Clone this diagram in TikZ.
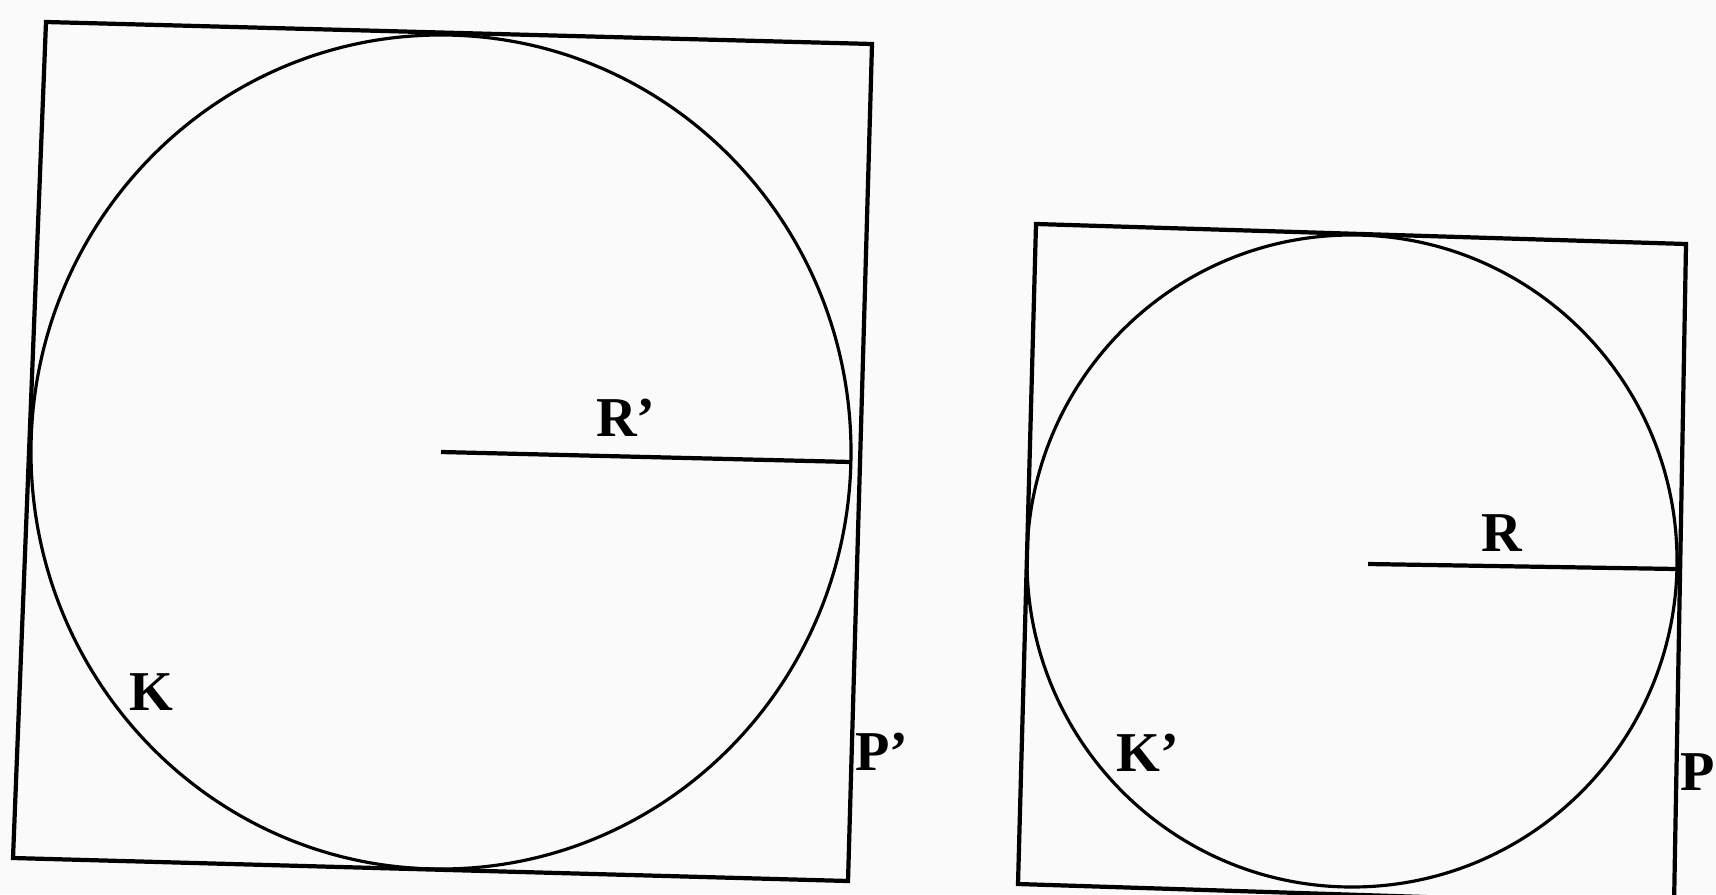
\documentclass[tikz,border=0pt]{standalone}
\usepackage{fontspec}
\setmainfont{Liberation Serif}
\begin{document}
\begin{tikzpicture}[x=0.01cm,y=-0.01cm,
  edge/.style={line width=1.2pt,black},
  rim/.style={line width=0.9pt,black},
  lbl/.style={font=\fontsize{16}{18}\selectfont\bfseries,inner sep=0pt}]
\fill[black!2] (0,0) rectangle (1716,894);
\useasboundingbox (0,0) rectangle (1716,894);
\begin{scope}
\clip (0,0) rectangle (1716,894);
% left figure
\coordinate (a1) at (46,22);
\coordinate (a2) at (872,44);
\coordinate (a3) at (848,881);
\coordinate (a4) at (13,858);
\draw[edge] (a1) -- (a2) -- (a3) -- (a4) -- cycle;
\coordinate (c1) at (441,452);
\draw[rim] (c1) ellipse [x radius=410, y radius=417];
\coordinate (r1) at (851,462);
\draw[edge] (c1) -- (r1);
\node[lbl] (Rp) at (626,418) {R'};
\node[lbl] (K) at (151,692) {K};
\node[lbl] (Pp) at (882,752) {P'};
% right figure
\coordinate (b1) at (1036,224);
\coordinate (b2) at (1686,244);
\coordinate (b3) at (1674,905);
\coordinate (b4) at (1018,884);
\draw[edge] (b1) -- (b2) -- (b3) -- (b4) -- cycle;
\coordinate (c2) at (1352,561);
\draw[rim] (c2) ellipse [x radius=325, y radius=326];
\coordinate (s2) at (1368,564);
\coordinate (r2) at (1677,569);
\draw[edge] (s2) -- (r2);
\node[lbl] (R) at (1502,533) {R};
\node[lbl] (Kp) at (1148,753) {K'};
\node[lbl] (P) at (1698,772) {P};
\end{scope}
\end{tikzpicture}
\end{document}
